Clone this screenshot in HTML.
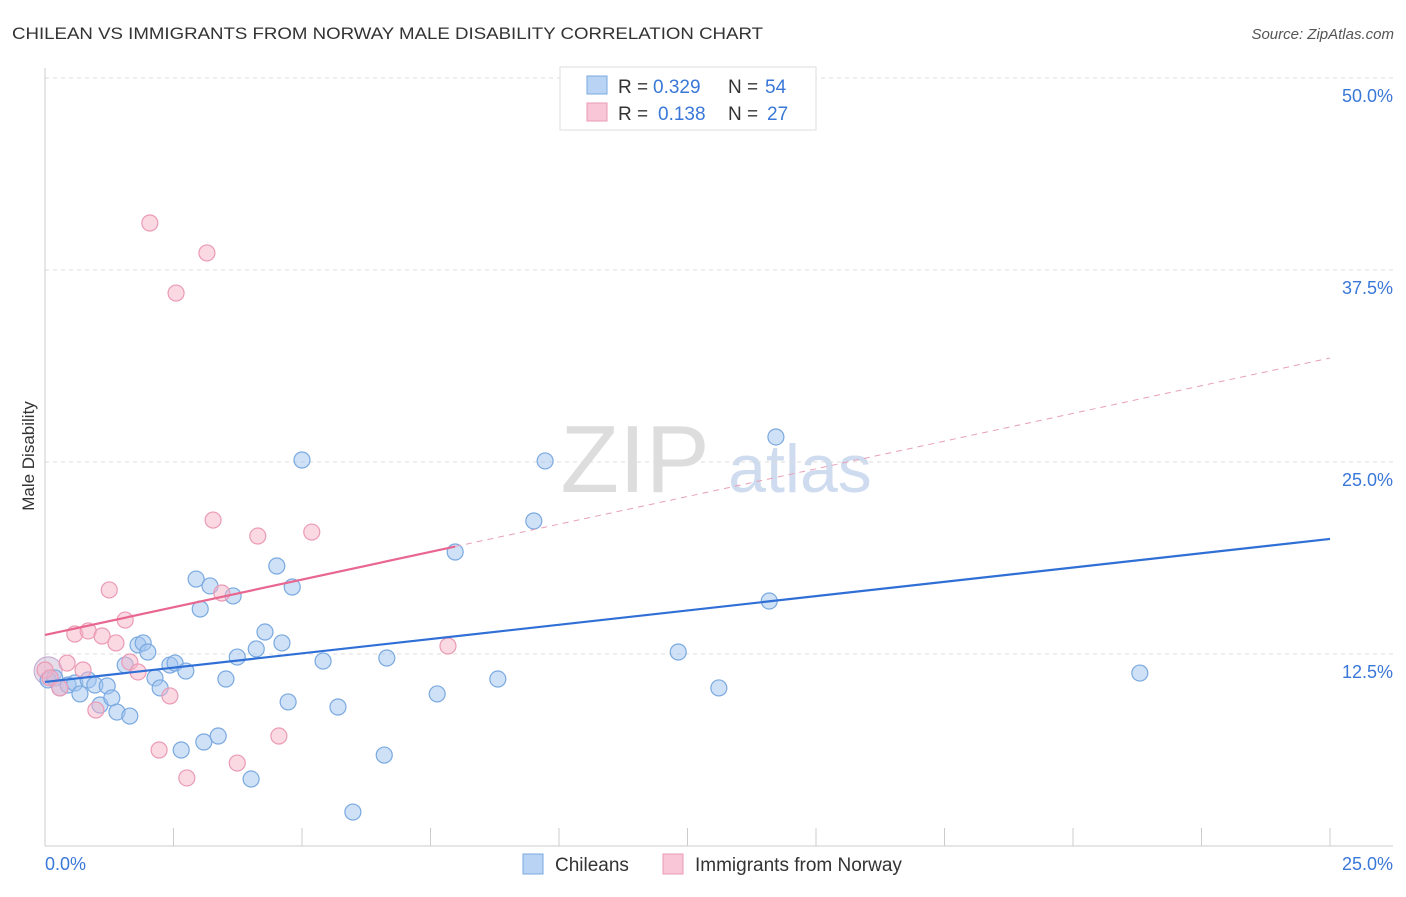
<!DOCTYPE html>
<html><head><meta charset="utf-8"><style>
body{margin:0;background:#fff;font-family:"Liberation Sans",sans-serif;}
svg text{font-family:"Liberation Sans",sans-serif;}
</style></head><body>
<svg id="chart" width="1406" height="892" xmlns="http://www.w3.org/2000/svg">
<text x="12" y="39" font-size="17" fill="#333" textLength="751" lengthAdjust="spacingAndGlyphs">CHILEAN VS IMMIGRANTS FROM NORWAY MALE DISABILITY CORRELATION CHART</text>
<text x="1394" y="39" font-size="15" fill="#555" text-anchor="end" font-style="italic">Source: ZipAtlas.com</text>
<text x="635" y="492" font-size="96" fill="#ddd" text-anchor="middle" font-family="Liberation Serif">ZIP</text>
<text x="800" y="492" font-size="68" fill="#cfdcf0" text-anchor="middle">atlas</text>
<text transform="translate(34,456) rotate(-90)" font-size="17" fill="#333" text-anchor="middle">Male Disability</text>
<g id="grid"></g><g id="marks"></g>
<g>
<rect x="560" y="67" width="256" height="63" fill="#fff" stroke="#ddd"/>
<rect x="587" y="76" width="20" height="18" fill="#b8d3f4" stroke="#7aa9e0"/>
<text y="93" font-size="19" fill="#333"><tspan x="618">R =</tspan><tspan x="653" fill="#3a78d8">0.329</tspan><tspan x="728">N =</tspan><tspan x="765" fill="#3a78d8">54</tspan></text>
<rect x="587" y="103" width="20" height="18" fill="#f8c6d6" stroke="#eb9ab5"/>
<text y="120" font-size="19" fill="#333"><tspan x="618">R =</tspan><tspan x="658" fill="#3a78d8">0.138</tspan><tspan x="728">N =</tspan><tspan x="767" fill="#3a78d8">27</tspan></text>
</g>
<g>
<rect x="523" y="854" width="20" height="20" fill="#b8d3f4" stroke="#7aa9e0"/>
<text x="555" y="871" font-size="19" fill="#333">Chileans</text>
<rect x="663" y="854" width="20" height="20" fill="#f8c6d6" stroke="#eb9ab5"/>
<text x="695" y="871" font-size="19" fill="#333">Immigrants from Norway</text>
</g>
</svg>
<script>
const blueX=[0.06,0.19,0.29,0.45,0.58,0.68,0.84,0.97,1.07,1.21,1.30,1.40,1.56,1.65,1.81,1.91,2.00,2.14,2.24,2.43,2.53,2.65,2.74,2.94,3.02,3.09,3.21,3.37,3.52,3.66,3.74,4.01,4.11,4.28,4.51,4.61,4.73,4.81,5.00,5.41,5.70,6.60,6.65,5.99,7.63,7.98,8.81,9.51,9.73,12.32,13.11,14.09,14.22,21.30];
const blueY=[10.81,10.94,10.29,10.48,10.61,9.90,10.81,10.48,9.18,10.42,9.64,8.72,11.78,8.46,13.09,13.22,12.63,10.94,10.29,11.78,11.91,6.25,11.39,17.38,15.43,6.77,16.93,7.16,10.87,16.28,12.30,4.36,12.83,13.93,18.23,13.22,9.38,16.86,25.13,12.04,9.05,5.92,12.24,2.21,9.90,19.14,10.87,21.16,25.07,12.63,10.29,15.95,26.63,11.26];
const pinkX=[0,0.10,0.29,0.43,0.58,0.74,0.84,0.99,1.11,1.25,1.38,1.56,1.65,1.81,2.04,2.22,2.43,2.55,2.76,3.15,3.27,3.44,3.74,4.14,4.55,5.19,7.84];
const pinkY=[11.46,10.94,10.29,11.91,13.80,11.46,14.00,8.85,13.67,16.67,13.22,14.71,11.98,11.33,40.56,6.25,9.77,36.00,4.43,38.61,21.22,16.47,5.40,20.18,7.16,20.44,13.02];
const blueTrend=[10.68,19.99];
const pinkTrend=[13.74,31.77];
const pinkSolidEnd=7.98;
const yTicks=[12.5,25,37.5,50];
const xTickLabels=["0.0%","25.0%"];
const NS="http://www.w3.org/2000/svg";
const X=v=>45+v*51.4, Y=v=>846-v*15.36;
function mk(tag,attrs,parent){const e=document.createElementNS(NS,tag);for(const k in attrs)e.setAttribute(k,attrs[k]);parent.appendChild(e);return e;}
const grid=document.getElementById('grid'), marks=document.getElementById('marks');
yTicks.forEach(t=>{
 const l=mk('line',{x1:45,x2:1393,y1:Y(t),y2:Y(t),stroke:'#ddd','stroke-dasharray':'4,4'},grid);
 
 
 const tx=mk('text',{x:1393,y:Y(t)+24,'font-size':18,fill:'#3a78d8','text-anchor':'end'},grid);
 tx.textContent=t.toFixed(1)+'%';
 
 
});
mk('line',{x1:45,x2:45,y1:68,y2:846,stroke:'#ccc'},grid);
mk('line',{x1:45,x2:1393,y1:846,y2:846,stroke:'#ccc'},grid);
for(let i=1;i<=10;i++){mk('line',{x1:X(i*2.5),x2:X(i*2.5),y1:828,y2:846,stroke:'#ccc'},grid);}
const xl0=mk('text',{x:45,y:870,'font-size':18,fill:'#3a78d8'},grid);xl0.textContent=xTickLabels[0];


const xl1=mk('text',{x:1393,y:870,'font-size':18,fill:'#3a78d8','text-anchor':'end'},grid);xl1.textContent=xTickLabels[1];


const big=mk('circle',{cx:X(0.06),cy:Y(11.4),r:14,fill:'rgba(200,180,210,0.45)',stroke:'#c0a8d0'},marks);


blueX.forEach((x,i)=>{const c=mk('circle',{cx:X(x),cy:Y(blueY[i]),r:8,fill:'rgba(160,196,240,0.5)',stroke:'#7aa9e0','stroke-width':1.2},marks);
 
 });
pinkX.forEach((x,i)=>{const c=mk('circle',{cx:X(x),cy:Y(pinkY[i]),r:8,fill:'rgba(246,180,200,0.5)',stroke:'#eb9ab5','stroke-width':1.2},marks);
 
 });
const bt=mk('line',{x1:X(0),y1:Y(blueTrend[0]),x2:X(25),y2:Y(blueTrend[1]),stroke:'#2f6fd6','stroke-width':2.2},marks);


const pm=v=>pinkTrend[0]+(pinkTrend[1]-pinkTrend[0])*v/25;
const pt=mk('line',{x1:X(0),y1:Y(pinkTrend[0]),x2:X(pinkSolidEnd),y2:Y(pm(pinkSolidEnd)),stroke:'#e8668f','stroke-width':2.2},marks);


const pd=mk('line',{x1:X(pinkSolidEnd),y1:Y(pm(pinkSolidEnd)),x2:X(25),y2:Y(pinkTrend[1]),stroke:'#e8a0b8','stroke-width':1,'stroke-dasharray':'6,5'},marks);


</script>
</body></html>
